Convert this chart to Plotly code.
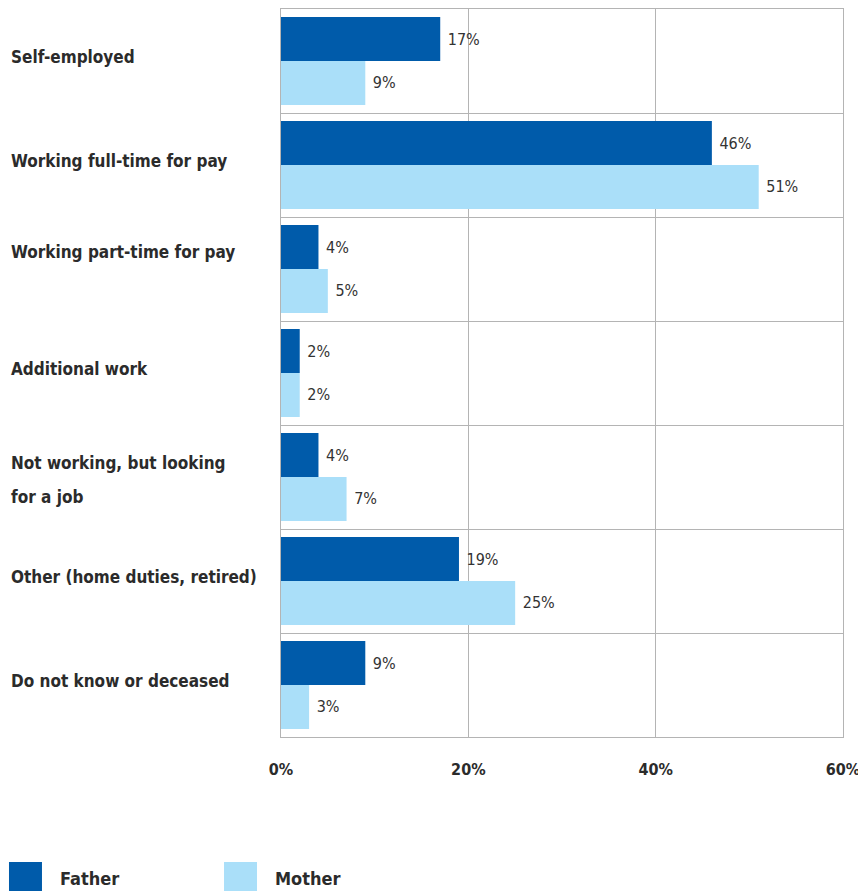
import plotly.graph_objects as go

categories = [
    "Self-employed",
    "Working full-time for pay",
    "Working part-time for pay",
    "Additional work",
    "Not working, but looking<br>for a job",
    "Other (home duties, retired)",
    "Do not know or deceased",
]
series_names = ["Father", "Mother"]
father = [17, 46, 4, 2, 4, 19, 9]
mother = [9, 51, 5, 2, 7, 25, 3]
x_ticks = [0, 20, 40, 60]
x_tick_labels = ["0%", "20%", "40%", "60%"]

colors = {"Father": "#005BAA", "Mother": "#AADFF9"}
FONT = "Liberation Sans Narrow, DejaVu Sans Condensed, Arial Narrow, sans-serif"
TEXT = "#2b2b2b"
GRID = "#b4b4b4"

pos = list(range(len(categories)))

fig = go.Figure()
for name, vals in zip(series_names, [father, mother]):
    fig.add_trace(go.Bar(
        name=name, x=vals, y=pos, orientation="h",
        marker=dict(color=colors[name], line=dict(width=0)),
        text=[f"\u00a0{v}%" for v in vals],
        textposition="outside",
        textfont=dict(family=FONT, size=16, color="#333333"),
        cliponaxis=False,
        showlegend=False,
    ))

# category labels (left aligned)
label_shift = {2: 17, 4: -3}
annotations = []
for i, cat in enumerate(categories):
    lines = cat.split("<br>")
    n = len(lines)
    for j, line in enumerate(lines):
        annotations.append(dict(
            text=f"<b>{line}</b>", xref="paper", yref="y",
            x=-0.484, y=i, xanchor="left", yanchor="middle",
            yshift=label_shift.get(i, 4) + (n - 1) * 17 - j * 34,
            showarrow=False, align="left",
            font=dict(family=FONT, size=17, color=TEXT),
        ))

# legend drawn manually (large swatches)
shapes = []
leg_x = [(-0.484, -0.4253), (-0.1014, -0.0427)]
for name, (x0, x1) in zip(series_names, leg_x):
    shapes.append(dict(type="rect", xref="paper", yref="paper",
                       x0=x0, x1=x1, y0=-0.2115, y1=-0.1717,
                       fillcolor=colors[name], line=dict(width=0)))
    annotations.append(dict(
        text=f"<b>{name}</b>", xref="paper", yref="paper",
        x=(x1 + 0.0285), y=-0.1937, xanchor="left", yanchor="middle",
        showarrow=False,
        font=dict(family=FONT, size=18, color=TEXT),
    ))

fig.update_layout(
    width=858, height=883,
    margin=dict(l=273, r=23, t=1, b=154),
    paper_bgcolor="white", plot_bgcolor="white",
    barmode="group", bargap=0.154, bargroupgap=0,
    showlegend=False,
    annotations=annotations, shapes=shapes,
    font=dict(family=FONT, color=TEXT),
)
fig.update_xaxes(
    range=[0, 60], tickvals=x_ticks, ticktext=[f"<b>{t}</b>" for t in x_tick_labels],
    showgrid=True, gridcolor=GRID, gridwidth=1.3,
    showline=True, linecolor=GRID, linewidth=1.3, mirror=True,
    zeroline=False, ticks="", ticklabelstandoff=18,
    tickfont=dict(family=FONT, size=16, color=TEXT),
)
fig.update_yaxes(
    range=[len(categories) - 0.5, -0.5],
    tickvals=[i - 0.5 for i in range(len(categories) + 1)],
    showticklabels=False,
    showgrid=True, gridcolor=GRID, gridwidth=1.3,
    showline=True, linecolor=GRID, linewidth=1.3, mirror=True,
    zeroline=False, ticks="",
)

fig.write_html("out.html")
